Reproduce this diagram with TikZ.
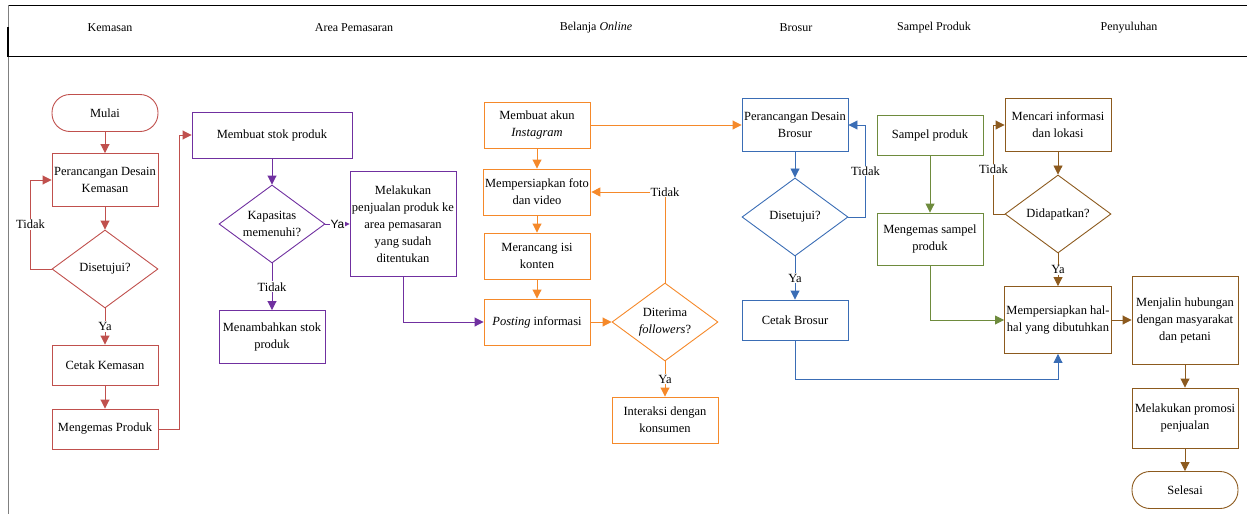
\documentclass[tikz,border=0pt]{standalone}
\usepackage{fontspec}
\setmainfont{Liberation Serif}
\setsansfont{Liberation Sans}
\usetikzlibrary{arrows.meta,shapes.geometric}
\definecolor{kred}{HTML}{C0504D}
\definecolor{kpurple}{HTML}{7030A0}
\definecolor{korange}{HTML}{F5892A}
\definecolor{kblue}{HTML}{3A6DB5}
\definecolor{kgreen}{HTML}{6E8B3D}
\definecolor{kbrown}{HTML}{8C5A1E}
\tikzset{
  box/.style={draw,text=black,line width=0.9pt,minimum width=106pt,inner sep=2pt,align=center,
    font=\fontsize{12.5}{17}\selectfont},
  ends/.style={box,rounded corners=18pt},
  decide/.style={draw,text=black,line width=0.9pt,diamond,aspect=1.36,minimum width=106pt,
    minimum height=78pt,inner sep=0pt,align=center,font=\fontsize{12.5}{17}\selectfont},
  link/.style={line width=0.9pt,-{Triangle[length=9pt,width=9pt]}},
  lbl/.style={fill=white,text=black,inner sep=1pt,font=\fontsize{12.5}{14}\selectfont},
  head/.style={font=\fontsize{12}{14}\selectfont}
}
\begin{document}
\begin{tikzpicture}[x=1pt,y=-1pt]
\useasboundingbox (0,0) rectangle (1247,514);
% header
\draw[line width=0.8pt] (8,5)--(1247,5);
\draw[line width=1.6pt] (8,56.5)--(1247,56.5);
\draw[gray,line width=0.8pt] (8,5)--(8,514);
\draw[line width=1.6pt] (8,27)--(8,57);
\node[head] (h1) at (110,28) {Kemasan};
\node[head] (h2) at (354,28) {Area Pemasaran};
\node[head] (h3) at (596,28) {Belanja \textit{Online}};
\node[head] (h4) at (796,28) {Brosur};
\node[head] (h5) at (934,28) {Sampel Produk};
\node[head] (h6) at (1129,28) {Penyuluhan};
% kemasan
\begin{scope}[every path/.append style={kred}]
\node[ends,minimum height=37pt] (mulai) at (105,113) {Mulai};
\node[box,minimum height=53pt] (desk) at (105,180) {Perancangan Desain\\Kemasan};
\node[decide] (setk) at (105,269) {Disetujui?};
\node[box,minimum height=40pt] (cetk) at (105,365) {Cetak Kemasan};
\node[box,minimum height=40pt] (kemp) at (105,429) {Mengemas Produk};
\draw[link] (mulai)--(desk);
\draw[link] (desk)--(setk);
\draw[link] (setk.west)--++(-21,0) |- node[lbl,pos=0.25]{Tidak} (desk.west);
\draw[link] (setk)-- node[lbl]{Ya} (cetk);
\draw[link] (cetk)--(kemp);
\end{scope}
% area pemasaran
\begin{scope}[every path/.append style={kpurple}]
\node[box,minimum width=160pt,minimum height=46pt] (stok) at (272,135) {Membuat stok produk};
\node[decide] (kap) at (272,224) {Kapasitas\\memenuhi?};
\node[box,minimum height=53pt] (tamb) at (272,337) {Menambahkan stok\\produk};
\node[box,minimum height=105pt] (jual) at (403,224) {Melakukan\\penjualan produk ke\\area pemasaran\\yang sudah\\ditentukan};
\draw[link] (stok.south)--(kap.north);
\draw[link] (kap)-- node[lbl]{Tidak} (tamb);
\draw[link] (kap)-- node[lbl,font=\sffamily\fontsize{12}{13}\selectfont]{Ya} (jual);
\end{scope}
\draw[link,kred] (kemp.east)--++(21,0) |- (stok.west);
% belanja online
\begin{scope}[every path/.append style={korange}]
\node[box,minimum height=46pt] (akun) at (537,125) {Membuat akun\\\textit{Instagram}};
\node[box,minimum height=46pt] (foto) at (537,192) {Mempersiapkan foto\\dan video};
\node[box,minimum height=46pt] (isi) at (537,256) {Merancang isi\\konten};
\node[box,minimum height=46pt] (post) at (537,322) {\textit{Posting} informasi};
\node[decide] (fol) at (665,322) {Diterima\\\textit{followers}?};
\node[box,minimum height=46pt] (inter) at (665,420) {Interaksi dengan\\konsumen};
\draw[link] (akun)--(foto);
\draw[link] (foto)--(isi);
\draw[link] (isi)--(post);
\draw[link] (post)--(fol);
\draw[link] (fol.north) |- node[lbl,pos=0.5]{Tidak} (foto.east);
\draw[link] (fol)-- node[lbl]{Ya} (inter);
\end{scope}
\draw[link,kpurple] (jual.south) |- (post.west);
% brosur
\begin{scope}[every path/.append style={kblue}]
\node[box,minimum height=53pt] (desb) at (795,125) {Perancangan Desain\\Brosur};
\node[decide] (setb) at (795,217) {Disetujui?};
\node[box,minimum height=40pt] (cetb) at (795,320) {Cetak Brosur};
\draw[link] (desb)--(setb);
\draw[link] (setb.east)--++(17,0) |- node[lbl,pos=0.25]{Tidak} (desb.east);
\draw[link] (setb)-- node[lbl]{Ya} (cetb);
\end{scope}
\draw[link,korange] (akun.east)--(desb.west);
% sampel produk
\begin{scope}[every path/.append style={kgreen}]
\node[box,minimum height=40pt] (samp) at (930,135) {Sampel produk};
\node[box,minimum height=52pt] (kems) at (930,239) {Mengemas sampel\\produk};
\draw[link] (samp)--(kems);
\end{scope}
% penyuluhan
\begin{scope}[every path/.append style={kbrown}]
\node[box,minimum height=53pt] (cari) at (1058,125) {Mencari informasi\\dan lokasi};
\node[decide] (dapat) at (1058,214) {Didapatkan?};
\node[box,minimum height=67pt] (siap) at (1058,320) {Mempersiapkan hal-\\hal yang dibutuhkan};
\node[box,minimum height=88pt] (jalin) at (1185,320) {Menjalin hubungan\\dengan masyarakat\\dan petani};
\node[box,minimum height=60pt] (promo) at (1185,418) {Melakukan promosi\\penjualan};
\node[ends,minimum height=37pt] (selesai) at (1185,490) {Selesai};
\draw[link] (cari)--(dapat);
\draw[link] (dapat.west)--++(-11,0) |- node[lbl,pos=0.25]{Tidak} (cari.west);
\draw[link] (dapat)-- node[lbl]{Ya} (siap);
\draw[link] (siap)--(jalin);
\draw[link] (jalin)--(promo);
\draw[link] (promo)--(selesai);
\end{scope}
\draw[link,kgreen] (kems.south) |- (siap.west);
\draw[link,kblue] (cetb.south)--++(0,39) -| (siap.south);
\end{tikzpicture}
\end{document}
